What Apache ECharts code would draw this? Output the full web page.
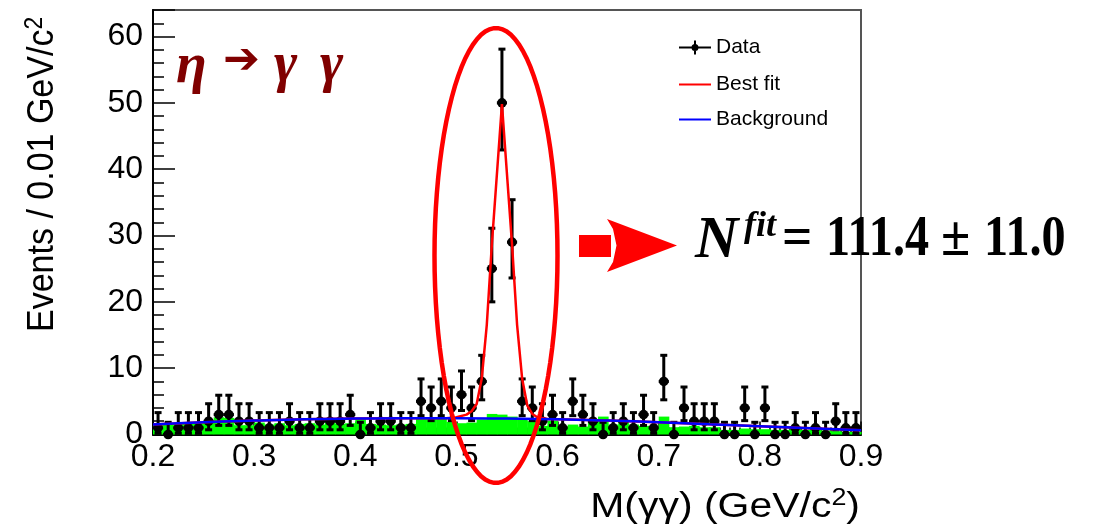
<!DOCTYPE html>
<html>
<head>
<meta charset="utf-8">
<script src="https://cdn.jsdelivr.net/npm/echarts@6/dist/echarts.min.js"></script>
<style>
    html, body { margin: 0; padding: 0; background: #fff; }
    #mainChart { width: 1114px; height: 526px; }
</style>
</head>
<body>
<div id="mainChart"></div>
<script>
// bins: 0.01 GeV/c2 wide from 0.2 to 0.9
const xMin = 0.2, xMax = 0.9, binWidth = 0.01;

// events per bin (data points)
const counts = [1, 0, 1, 1, 1, 2, 3, 3, 2, 2,
    1, 1, 1, 2, 1, 1, 2, 2, 2, 3,
    0, 1, 2, 2, 1, 1, 5, 4, 5, 4,
    6, 4, 8, 25, 50, 29, 5, 4, 2, 3,
    1, 5, 3, 2, 0, 1, 2, 1, 3, 1,
    8, 0, 4, 2, 2, 2, 0, 0, 4, 0,
    4, 0, 0, 1, 0, 1, 0, 2, 1, 1];

// green histogram
const bkgHist = [1.6, 1.5, 1.6, 1.6, 1.7, 1.8, 2.6, 2.5, 1.4, 1.4,
    1.8, 1.5, 1.7, 1.4, 1.6, 1.7, 1.5, 1.8, 1.6, 1.7,
    2.4, 1.6, 1.5, 1.4, 1.5, 1.6, 2.6, 2.6, 2.5, 1.9,
    1.7, 1.8, 2.3, 3.1, 3.0, 2.7, 2.4, 2.0, 1.3, 2.1,
    1.2, 1.5, 1.2, 2.3, 2.7, 1.5, 2.0, 1.5, 1.3, 1.3,
    2.7, 1.1, 1.2, 1.3, 1.1, 1.1, 0.7, 0.7, 0.9, 0.8,
    0.8, 0.7, 0.7, 0.8, 0.7, 0.7, 0.6, 0.5, 0.4, 0.4];

// error bar ends for each count (asymmetric Poisson intervals)
const errLow = {0: 0, 1: 0.17, 2: 0.71, 3: 1.37, 4: 2.09, 5: 2.84, 6: 3.62, 8: 5.23, 25: 20.0, 29: 23.6, 50: 42.9};
const errHigh = {0: 1.84, 1: 3.30, 2: 4.64, 3: 5.92, 4: 7.16, 5: 8.38, 6: 9.58, 8: 11.94, 25: 31.1, 29: 35.4, 50: 58.1};

// best fit curve
const fitX = [0.2, 0.25, 0.3, 0.35, 0.4, 0.45, 0.49, 0.5, 0.51, 0.515, 0.52, 0.525, 0.53, 0.535, 0.545,
    0.555, 0.56, 0.565, 0.57, 0.575, 0.58, 0.59, 0.6, 0.65, 0.7, 0.75, 0.8, 0.85, 0.9];
const fitY = [1.5, 1.85, 2.1, 2.3, 2.4, 2.45, 2.45, 2.6, 3.0, 3.5, 4.6, 8.4, 16.5, 28.6, 49.8,
    28.6, 16.5, 8.4, 4.4, 3.1, 2.6, 2.35, 2.3, 2.1, 1.85, 1.55, 1.25, 0.95, 0.65];

// background curve
const bgX = [0.2, 0.25, 0.3, 0.35, 0.4, 0.45, 0.5, 0.55, 0.6, 0.65, 0.7, 0.75, 0.8, 0.85, 0.9];
const bgY = [1.5, 1.85, 2.1, 2.3, 2.4, 2.45, 2.45, 2.4, 2.3, 2.1, 1.85, 1.55, 1.25, 0.95, 0.65];

const yMax = 64;

const pointData = [], histData = [];
for (let i = 0; i < counts.length; i++) {
    const xc = xMin + binWidth * (i + 0.5);
    pointData.push([xc, counts[i], errLow[counts[i]], errHigh[counts[i]]]);
    histData.push([xc, bkgHist[i]]);
}

function renderHist(params, api) {
    const x = api.value(0), h = api.value(1);
    const p0 = api.coord([x - binWidth / 2, h]);
    const p1 = api.coord([x + binWidth / 2, 0]);
    return {
        type: 'rect',
        shape: {x: p0[0], y: p0[1], width: p1[0] - p0[0] + 0.5, height: p1[1] - p0[1]},
        style: {fill: '#00ff00'}
    };
}

function renderPoint(params, api) {
    const x = api.value(0), n = api.value(1);
    const c = api.coord([x, n]);
    const top = api.coord([x, api.value(3)]);
    const bot = api.coord([x, api.value(2)]);
    const l = api.coord([x - binWidth / 2, n]);
    const r = api.coord([x + binWidth / 2, n]);
    const st = {stroke: '#000', lineWidth: 3};
    return {
        type: 'group',
        children: [
            {type: 'line', shape: {x1: c[0], y1: top[1], x2: c[0], y2: bot[1]}, style: st},
            {type: 'line', shape: {x1: c[0] - 3.5, y1: top[1], x2: c[0] + 3.5, y2: top[1]}, style: st},
            {type: 'line', shape: {x1: c[0] - 3.5, y1: bot[1], x2: c[0] + 3.5, y2: bot[1]}, style: st},
            {type: 'line', shape: {x1: l[0], y1: c[1], x2: r[0], y2: c[1]}, style: st},
            {type: 'circle', shape: {cx: c[0], cy: c[1], r: 4.8}, style: {fill: '#000'}}
        ]
    };
}

// red ellipse round the peak
const ellipsePts = [];
for (let k = 0; k < 90; k++) {
    const a = k / 90 * Math.PI * 2;
    ellipsePts.push([496 + 61.5 * Math.cos(a), 255.5 + 227.5 * Math.sin(a)]);
}

const dataIcon = 'path://M0,6h32v2h-32z M15,0h2v14h-2z M19.5,7a3.5,3.5 0 1,1 -7,0a3.5,3.5 0 1,1 7,0z';
const lineIcon = 'path://M0,0h32v2h-32z';
const legendBase = {
    orient: 'vertical', left: 674, itemWidth: 32, itemHeight: 14, selectedMode: false,
    textStyle: {fontSize: 21, fontFamily: 'Liberation Sans', color: '#000'}
};
const serif = 'Liberation Serif', sans = 'Liberation Sans';

const myChart = echarts.init(document.getElementById('mainChart'));
const option = {
    animation: false,
    backgroundColor: '#fff',
    grid: {left: 153, right: 253, top: 10, bottom: 91.5, show: true, borderColor: '#555', borderWidth: 2},
    legend: [
        Object.assign({}, legendBase, {top: 32, data: [{name: 'Data', icon: dataIcon}]}),
        Object.assign({}, legendBase, {top: 69, data: [{name: 'Best fit', icon: lineIcon}]}),
        Object.assign({}, legendBase, {top: 104, data: [{name: 'Background', icon: lineIcon}]})
    ],
    xAxis: {
        type: 'value', min: xMin, max: xMax, interval: 0.1,
        axisLine: {lineStyle: {color: '#000', width: 2}},
        axisTick: {inside: true, length: 13, lineStyle: {color: '#000', width: 1.5}},
        minorTick: {show: true, splitNumber: 10, length: 7, lineStyle: {color: '#000', width: 1.5}},
        splitLine: {show: false},
        axisLabel: {
            margin: 7, fontSize: 32, fontFamily: sans, color: '#000',
            formatter: v => v.toFixed(1)
        }
    },
    yAxis: {
        type: 'value', min: 0, max: yMax, interval: 10,
        axisLine: {lineStyle: {color: '#000', width: 2}},
        axisTick: {inside: true, length: 22, lineStyle: {color: '#000', width: 1.5}},
        minorTick: {show: true, splitNumber: 5, length: 11, lineStyle: {color: '#000', width: 1.5}},
        splitLine: {show: false},
        axisLabel: {
            margin: 10, fontSize: 32, fontFamily: sans, color: '#000',
            formatter: v => (v % 10 === 0 ? String(v) : '')
        }
    },
    series: [
        {
            name: 'bkgHist', type: 'custom', renderItem: renderHist, data: histData,
            encode: {x: 0, y: 1}, z: 1, silent: true
        },
        {
            name: 'Data', type: 'custom', renderItem: renderPoint, data: pointData,
            dimensions: ['x', 'n', 'lo', 'hi'], encode: {x: 0, y: 1}, color: '#000', z: 2
        },
        {
            name: 'Best fit', type: 'line', data: fitX.map((x, i) => [x, fitY[i]]),
            showSymbol: false, color: '#ff0000', lineStyle: {color: '#ff0000', width: 2.5}, z: 3
        },
        {
            name: 'Background', type: 'line', smooth: true, data: bgX.map((x, i) => [x, bgY[i]]),
            showSymbol: false, color: '#0000ff', lineStyle: {color: '#0000ff', width: 2.5}, z: 4
        }
    ],
    graphic: [
        {type: 'polygon', shape: {points: ellipsePts}, style: {fill: 'none', stroke: '#ff0000', lineWidth: 4.5}, z: 10},
        {type: 'rect', shape: {x: 579, y: 235, width: 32, height: 22}, style: {fill: '#ff0000'}, z: 10},
        {
            type: 'polygon',
            shape: {points: [[607, 219], [677, 245.5], [607, 272], [613, 262], [616.5, 245.5], [613, 229]]},
            style: {fill: '#ff0000'}, z: 10
        },
        // N^fit = 111.4 ± 11.0
        {type: 'text', x: 695, y: 241, style: {text: 'N', fontSize: 60, fontStyle: 'italic', fontWeight: 'bold', fontFamily: serif, fill: '#000', verticalAlign: 'middle'}, z: 10},
        {type: 'text', x: 744, y: 227, style: {text: 'fit', fontSize: 36, fontStyle: 'italic', fontWeight: 'bold', fontFamily: serif, fill: '#000', verticalAlign: 'middle'}, z: 10},
        {type: 'text', x: 782, y: 241, scaleX: 0.95, style: {text: '=', fontSize: 56, fontWeight: 'bold', fontFamily: serif, fill: '#000', verticalAlign: 'middle'}, z: 10},
        {type: 'text', x: 826, y: 241, scaleX: 0.86, style: {text: '111.4', fontSize: 56, fontWeight: 'bold', fontFamily: serif, fill: '#000', verticalAlign: 'middle'}, z: 10},
        {type: 'text', x: 941, y: 241, scaleX: 0.95, style: {text: '\u00b1', fontSize: 56, fontWeight: 'bold', fontFamily: serif, fill: '#000', verticalAlign: 'middle'}, z: 10},
        {type: 'text', x: 984, y: 241, scaleX: 0.86, style: {text: '11.0', fontSize: 56, fontWeight: 'bold', fontFamily: serif, fill: '#000', verticalAlign: 'middle'}, z: 10},
        // eta -> gamma gamma
        {type: 'text', x: 176, y: 68, style: {text: '\u03b7', fontSize: 56, fontStyle: 'italic', fontWeight: 'bold', fontFamily: serif, fill: '#800000', verticalAlign: 'middle'}, z: 10},
        {type: 'text', x: 223, y: 62, style: {text: '\u2794', fontSize: 44, fontFamily: 'DejaVu Sans', fill: '#800000', verticalAlign: 'middle'}, z: 10},
        {type: 'text', x: 274, y: 67, style: {text: '\u03b3', fontSize: 56, fontStyle: 'italic', fontWeight: 'bold', fontFamily: serif, fill: '#800000', verticalAlign: 'middle'}, z: 10},
        {type: 'text', x: 320, y: 67, style: {text: '\u03b3', fontSize: 56, fontStyle: 'italic', fontWeight: 'bold', fontFamily: serif, fill: '#800000', verticalAlign: 'middle'}, z: 10},
        // axis titles
        {
            type: 'text', x: 43, y: 332, rotation: Math.PI / 2, scaleY: 1.1,
            style: {
                text: '{a|Events / 0.01 GeV/c}{s|2}', align: 'left', verticalAlign: 'middle',
                rich: {
                    a: {fontSize: 34, lineHeight: 38, fontFamily: sans, fill: '#000'},
                    s: {fontSize: 23, fontFamily: sans, fill: '#000', verticalAlign: 'top'}
                }
            }, z: 10
        },
        {
            type: 'text', x: 860, y: 507, scaleX: 1.17,
            style: {
                text: '{a|M(\u03b3\u03b3) (GeV/c}{s|2}{a|)}', align: 'right', verticalAlign: 'middle',
                rich: {
                    a: {fontSize: 35, lineHeight: 40, fontFamily: sans, fill: '#000'},
                    s: {fontSize: 23, fontFamily: sans, fill: '#000', verticalAlign: 'top'}
                }
            }, z: 10
        }
    ]
};
myChart.setOption(option);
</script>
</body>
</html>
